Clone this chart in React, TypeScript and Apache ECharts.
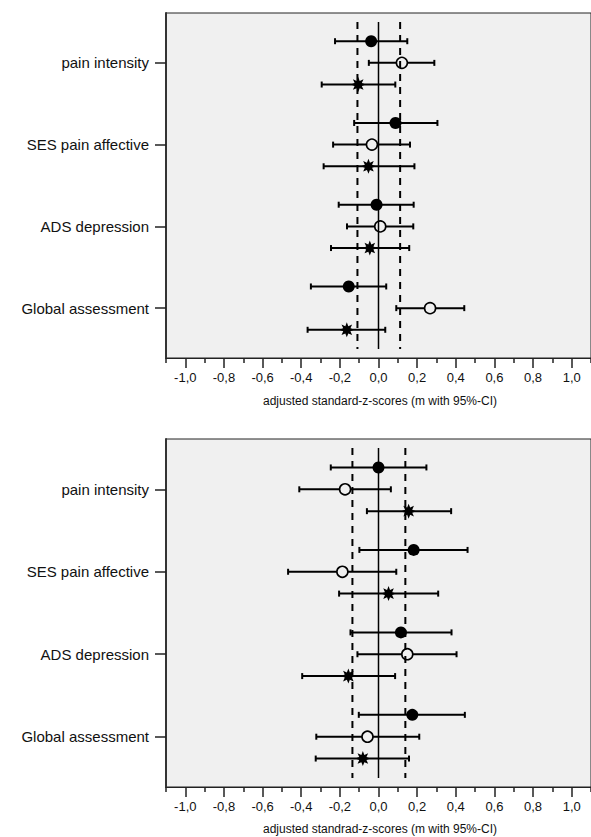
import React, { useEffect, useRef } from "react";
import * as echarts from "echarts";

const categories = ["pain intensity", "SES pain affective", "ADS depression", "Global assessment"];
const xTickLabels = [-1.0, -0.8, -0.6, -0.4, -0.2, 0.0, 0.2, 0.4, 0.6, 0.8, 1.0];
const xMinorTicks = [-1.1, -0.9, -0.7, -0.5, -0.3, -0.1, 0.1, 0.3, 0.5, 0.7, 0.9, 1.1];

// Top panel
const topFilledMean = [-0.038, 0.088, -0.01, -0.154];
const topFilledLow = [-0.225, -0.126, -0.206, -0.35];
const topFilledHigh = [0.149, 0.305, 0.182, 0.04];
const topOpenMean = [0.121, -0.034, 0.009, 0.267];
const topOpenLow = [-0.05, -0.235, -0.163, 0.092];
const topOpenHigh = [0.289, 0.163, 0.18, 0.444];
const topStarMean = [-0.105, -0.052, -0.045, -0.164];
const topStarLow = [-0.294, -0.284, -0.246, -0.367];
const topStarHigh = [0.087, 0.186, 0.159, 0.035];
const topDashed = [-0.109, 0.112];

// Bottom panel
const botFilledMean = [0.0, 0.182, 0.116, 0.175];
const botFilledLow = [-0.247, -0.099, -0.145, -0.102];
const botFilledHigh = [0.248, 0.461, 0.378, 0.447];
const botOpenMean = [-0.173, -0.187, 0.149, -0.057];
const botOpenLow = [-0.41, -0.468, -0.109, -0.322];
const botOpenHigh = [0.064, 0.092, 0.404, 0.211];
const botStarMean = [0.156, 0.052, -0.156, -0.081];
const botStarLow = [-0.06, -0.204, -0.395, -0.325];
const botStarHigh = [0.376, 0.309, 0.086, 0.158];
const botDashed = [-0.135, 0.139];

const titles = [
  "adjusted standard-z-scores (m with 95%-CI)",
  "adjusted standrad-z-scores (m with 95%-CI)",
];

function starPath(n: number, r1: number, r2: number) {
  const pts: string[] = [];
  for (let i = 0; i < 2 * n; i++) {
    const r = i % 2 === 0 ? r1 : r2;
    const a = (Math.PI * i) / n - Math.PI / 2;
    const x = 50 + r * Math.cos(a);
    const y = 50 + r * Math.sin(a);
    pts.push((i === 0 ? "M" : "L") + x.toFixed(2) + " " + y.toFixed(2));
  }
  return "path://" + pts.join(" ") + " Z";
}

const fmt = (v: number) => v.toFixed(1).replace(".", ",");

export default function App() {
  const ref = useRef<HTMLDivElement>(null);
  useEffect(() => {
    if (!ref.current) return;
    const chart = echarts.init(ref.current, null, { renderer: "svg" });
    const STAR = starPath(8, 50, 26);
    const OFF = 0.53;
    const ink = "#000";
    const font = "Liberation Sans, Arial, sans-serif";

    const panels = [
      {
        groups: [
          { mean: topFilledMean, low: topFilledLow, high: topFilledHigh, kind: "filled", off: -OFF },
          { mean: topOpenMean, low: topOpenLow, high: topOpenHigh, kind: "open", off: 0 },
          { mean: topStarMean, low: topStarLow, high: topStarHigh, kind: "star", off: OFF },
        ],
        dashed: topDashed,
        minorY: true,
      },
      {
        groups: [
          { mean: botFilledMean, low: botFilledLow, high: botFilledHigh, kind: "filled", off: -OFF },
          { mean: botOpenMean, low: botOpenLow, high: botOpenHigh, kind: "open", off: 0 },
          { mean: botStarMean, low: botStarLow, high: botStarHigh, kind: "star", off: OFF },
        ],
        dashed: botDashed,
        minorY: false,
      },
    ];

    const grids = [
      { left: 166, top: 13, right: -1, height: 345 },
      { left: 166, top: 439, right: -1, height: 348 },
    ].map((g) => ({
      ...g,
      show: true,
      backgroundColor: "#f0f0f0",
      borderColor: "#222",
      borderWidth: 1,
    }));

    const xAxes: any[] = [];
    const yAxes: any[] = [];
    const series: any[] = [];

    panels.forEach((p, gi) => {
      xAxes.push({
        type: "value",
        gridIndex: gi,
        min: -1.1,
        max: 1.1,
        position: "bottom",
        axisLine: { show: true, onZero: false, lineStyle: { color: "#222", width: 1 } },
        axisTick: { show: true, customValues: xTickLabels, length: 10, lineStyle: { color: "#222", width: 1.5 } },
        axisLabel: {
          show: true,
          customValues: xTickLabels,
          formatter: (v: number) => fmt(v),
          fontSize: 13,
          color: "#111",
          margin: 13,
          fontFamily: font,
        },
        splitLine: { show: false },
      });
      xAxes.push({
        type: "value",
        gridIndex: gi,
        min: -1.1,
        max: 1.1,
        position: "bottom",
        axisLine: { show: false, onZero: false },
        axisTick: { show: true, customValues: xMinorTicks, length: 5, lineStyle: { color: "#222", width: 1.5 } },
        axisLabel: { show: false, customValues: xMinorTicks },
        splitLine: { show: false },
      });
      yAxes.push({
        type: "value",
        gridIndex: gi,
        inverse: true,
        min: -0.22,
        max: 8.22,
        axisLine: { show: true, onZero: false, lineStyle: { color: "#333", width: 2 } },
        axisTick: { show: true, customValues: [1, 3, 5, 7], length: 11, lineStyle: { color: "#222", width: 1.5 } },
        axisLabel: {
          show: true,
          customValues: [1, 3, 5, 7],
          formatter: (v: number) => categories[Math.round((v - 1) / 2)] ?? "",
          fontSize: 15,
          color: "#111",
          margin: 17,
          fontFamily: font,
        },
        splitLine: { show: false },
      });
      yAxes.push({
        type: "value",
        gridIndex: gi,
        inverse: true,
        min: -0.22,
        max: 8.22,
        axisLine: { show: false, onZero: false },
        axisTick: {
          show: p.minorY,
          customValues: [0, 2, 4, 6, 8],
          length: 5,
          lineStyle: { color: "#222", width: 1.5 },
        },
        axisLabel: { show: false, customValues: [0, 2, 4, 6, 8] },
        splitLine: { show: false },
      });

      const xi = gi * 2;
      const yi = gi * 2;

      p.groups.forEach((g) => {
        const barData = g.mean.map((_, i) => [g.low[i], g.high[i], 1 + 2 * i + g.off]);
        series.push({
          type: "custom",
          xAxisIndex: xi,
          yAxisIndex: yi,
          data: barData,
          encode: { x: [0, 1], y: 2 },
          z: 2,
          renderItem: (params: any, api: any) => {
            const y = api.value(2);
            const a = api.coord([api.value(0), y]);
            const b = api.coord([api.value(1), y]);
            const h = 3;
            const st = { stroke: ink, lineWidth: 2 };
            return {
              type: "group",
              children: [
                { type: "line", shape: { x1: a[0], y1: a[1], x2: b[0], y2: b[1] }, style: st },
                { type: "line", shape: { x1: a[0], y1: a[1] - h, x2: a[0], y2: a[1] + h }, style: st },
                { type: "line", shape: { x1: b[0], y1: b[1] - h, x2: b[0], y2: b[1] + h }, style: st },
              ],
            };
          },
        });
        const ptData = g.mean.map((m, i) => [m, 1 + 2 * i + g.off]);
        let symbol = "circle";
        let symbolSize = 12;
        let itemStyle: any = { color: ink, opacity: 1 };
        if (g.kind === "open") {
          symbolSize = 11;
          itemStyle = { color: "#f0f0f0", borderColor: ink, borderWidth: 1.6, opacity: 1 };
        } else if (g.kind === "star") {
          symbol = STAR;
          symbolSize = 15;
          itemStyle = { color: ink, opacity: 1 };
        }
        series.push({
          type: "scatter",
          xAxisIndex: xi,
          yAxisIndex: yi,
          data: ptData,
          symbol,
          symbolSize,
          itemStyle,
          z: 3,
        });
      });

      const refs = [
        { x: 0, dashed: false },
        { x: p.dashed[0], dashed: true },
        { x: p.dashed[1], dashed: true },
      ];
      refs.forEach((r) => {
        series.push({
          type: "line",
          xAxisIndex: xi,
          yAxisIndex: yi,
          data: [
            [r.x, 0],
            [r.x, 8],
          ],
          symbol: "none",
          z: 4,
          lineStyle: { color: ink, width: r.dashed ? 2 : 1.5, type: r.dashed ? [7, 6] : "solid" },
        });
      });
    });

    chart.setOption({
      animation: false,
      backgroundColor: "#ffffff",
      grid: grids,
      xAxis: xAxes,
      yAxis: yAxes,
      series,
      graphic: [
        {
          type: "text",
          x: 380,
          y: 401,
          style: { text: titles[0], fontSize: 12, fill: "#111", align: "center", verticalAlign: "middle", fontFamily: font },
        },
        {
          type: "text",
          x: 380,
          y: 829,
          style: { text: titles[1], fontSize: 12, fill: "#111", align: "center", verticalAlign: "middle", fontFamily: font },
        },
      ],
    });
    return () => chart.dispose();
  }, []);
  return <div ref={ref} style={{ position: "fixed", left: 0, top: 0, width: 591, height: 837 }} />;
}
